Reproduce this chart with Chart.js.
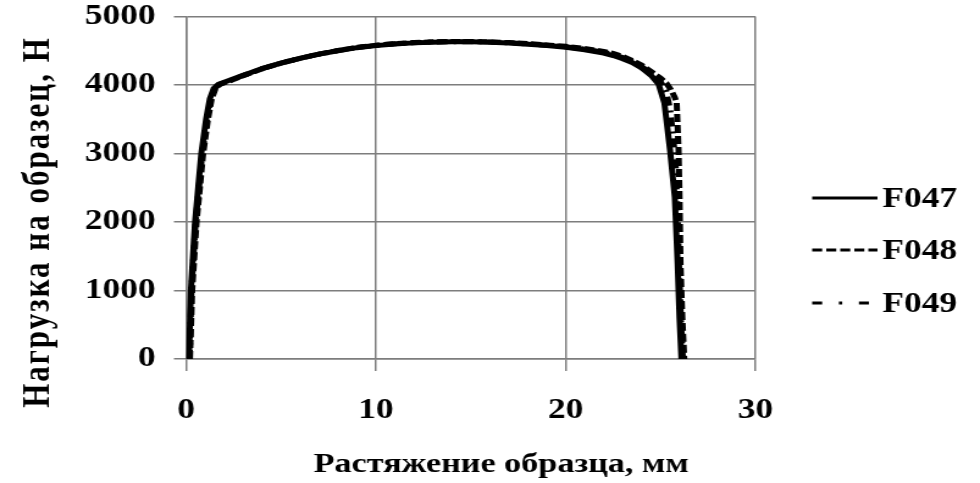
<!DOCTYPE html>
<html>
<head>
<meta charset="utf-8">
<script src="https://cdn.jsdelivr.net/npm/chart.js@4.4.1/dist/chart.umd.min.js"></script>
<style>
  html, body { margin: 0; padding: 0; background: #fff; overflow: hidden; }
  /* the reference picture is stretched sideways, so the chart is drawn narrow and scaled */
  #wrap { width: 803px; height: 483px; transform: scaleX(1.2204); transform-origin: 0 0; }
</style>
</head>
<body>
<div id="wrap"><canvas id="chart" width="803" height="483"></canvas></div>
<script>
// elongation, mm / load, N
const f047X = [0.15, 0.25, 0.47, 0.8, 1.05, 1.25, 1.45, 1.7, 2.0, 2.5, 3, 3.5, 4, 5, 6, 7, 8, 9, 10, 11, 12, 13, 14, 15, 16, 17, 18, 19, 20, 21, 22, 22.5, 23, 23.5, 24, 24.5, 24.9, 25.2, 25.5, 25.75, 25.9, 26.0, 26.1];
const f047Y = [0, 1000, 2000, 3000, 3500, 3800, 3950, 4010, 4040, 4090, 4140, 4190, 4240, 4320, 4390, 4450, 4500, 4545, 4575, 4600, 4615, 4625, 4630, 4630, 4625, 4612, 4595, 4575, 4550, 4515, 4465, 4430, 4385, 4330, 4250, 4140, 4010, 3740, 3050, 2365, 1400, 600, 0];

const f048X = [0.2, 0.32, 0.55, 0.9, 1.15, 1.35, 1.55, 1.8, 2.1, 2.5, 3, 3.5, 4, 5, 6, 7, 8, 9, 10, 11, 12, 13, 14, 15, 16, 17, 18, 19, 20, 21, 22, 22.5, 23, 23.5, 24, 24.5, 25.0, 25.3, 25.55, 25.75, 25.85, 25.95, 26.0, 26.05, 26.15, 26.25];
const f048Y = [0, 1000, 2000, 3000, 3500, 3800, 3950, 4010, 4040, 4080, 4135, 4185, 4235, 4320, 4390, 4450, 4505, 4550, 4580, 4605, 4620, 4630, 4635, 4635, 4630, 4620, 4605, 4585, 4565, 4535, 4490, 4460, 4420, 4360, 4290, 4200, 4100, 4030, 3930, 3820, 3740, 3050, 2365, 1400, 600, 0];

const f049X = [0.18, 0.28, 0.5, 0.85, 1.1, 1.3, 1.5, 1.75, 2.05, 2.5, 3, 3.5, 4, 5, 6, 7, 8, 9, 10, 11, 12, 13, 14, 15, 16, 17, 18, 19, 20, 21, 22, 22.5, 23, 23.5, 24, 24.5, 25.0, 25.3, 25.5, 25.65, 25.8, 25.9, 25.97, 26.07, 26.18];
const f049Y = [0, 1000, 2000, 3000, 3500, 3800, 3950, 4010, 4040, 4085, 4138, 4188, 4238, 4320, 4390, 4450, 4502, 4548, 4578, 4602, 4618, 4628, 4632, 4632, 4628, 4616, 4600, 4580, 4558, 4525, 4478, 4445, 4402, 4345, 4270, 4170, 4050, 3900, 3650, 3300, 2800, 2100, 1400, 600, 0];

const seriesNames = ['F047', 'F048', 'F049'];
const seriesDash = [[], [8, 3], [9, 5, 2, 5]];
const legendDash = [[], [8.2, 3.3], [8.2, 13.7, 2.7, 13.7]];

const xTitle = 'Растяжение образца, мм';
const yTitle = 'Нагрузка на образец, Н';

const FONT = '"Liberation Serif", "Times New Roman", serif';

function toPoints(xs, ys) {
    return xs.map((x, i) => ({ x: x, y: ys[i] }));
}

// draws the side legend and the axis titles
const extrasPlugin = {
    id: 'extras',
    afterDraw(chart) {
        const ctx = chart.ctx;
        ctx.save();
        ctx.fillStyle = '#000';
        ctx.strokeStyle = '#000';

        // legend
        const rows = [198, 250, 303];
        const lineEnds = [719, 719, 712];
        ctx.font = 'bold 29px ' + FONT;
        ctx.textAlign = 'left';
        ctx.textBaseline = 'middle';
        seriesNames.forEach((name, i) => {
            ctx.lineWidth = 3;
            ctx.setLineDash(legendDash[i]);
            ctx.beginPath();
            ctx.moveTo(665.5, rows[i]);
            ctx.lineTo(lineEnds[i], rows[i]);
            ctx.stroke();
            ctx.setLineDash([]);
            ctx.fillText(name, 723, rows[i] + 2);
        });

        // x title
        ctx.font = 'bold 28px ' + FONT;
        ctx.textAlign = 'center';
        ctx.textBaseline = 'alphabetic';
        ctx.fillText(xTitle, 410.6, 472);

        // y title
        ctx.save();
        ctx.translate(40, 222);
        ctx.rotate(-Math.PI / 2);
        ctx.font = 'bold 31px ' + FONT;
        ctx.letterSpacing = '2px';
        ctx.fillText(yTitle, 0, 0);
        ctx.restore();

        ctx.restore();
    }
};

const gridColor = '#7d7d7d';
const plainNumber = v => String(v);

new Chart(document.getElementById('chart'), {
    type: 'scatter',
    data: {
        datasets: [
            { label: seriesNames[0], data: toPoints(f047X, f047Y) },
            { label: seriesNames[1], data: toPoints(f048X, f048Y) },
            { label: seriesNames[2], data: toPoints(f049X, f049Y) }
        ].map((ds, i) => Object.assign(ds, {
            showLine: true,
            borderColor: '#000',
            backgroundColor: '#000',
            borderWidth: 5,
            borderDash: seriesDash[i],
            pointRadius: 0,
            tension: 0
        }))
    },
    options: {
        responsive: false,
        animation: false,
        layout: { padding: { top: 16.5, right: 184, bottom: 0, left: 0 } },
        plugins: {
            legend: { display: false },
            tooltip: { enabled: false }
        },
        scales: {
            x: {
                type: 'linear',
                min: 0,
                max: 30,
                ticks: {
                    stepSize: 10,
                    color: '#000',
                    padding: 25,
                    callback: plainNumber,
                    font: { family: FONT, size: 29, weight: 'bold', lineHeight: 1 }
                },
                grid: { color: gridColor, lineWidth: 1.5, tickLength: 12 },
                border: { color: gridColor, width: 1.5 },
                afterFit(scale) {
                    scale.height = 124;
                    scale.paddingLeft = 0;
                    scale.paddingRight = 0;
                }
            },
            y: {
                min: 0,
                max: 5000,
                ticks: {
                    stepSize: 1000,
                    color: '#000',
                    padding: 15,
                    callback: plainNumber,
                    font: { family: FONT, size: 29, weight: 'bold', lineHeight: 1 }
                },
                grid: { color: gridColor, lineWidth: 1.5, tickLength: 10 },
                border: { color: gridColor, width: 1.5 },
                afterFit(scale) {
                    scale.width = 152.5;
                    scale.paddingTop = 0;
                    scale.paddingBottom = 0;
                }
            }
        }
    },
    plugins: [extrasPlugin]
});
</script>
</body>
</html>
